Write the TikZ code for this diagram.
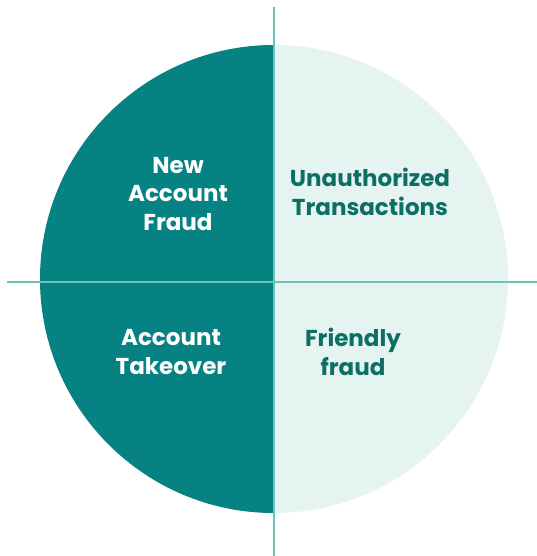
\documentclass[tikz,border=0pt]{standalone}
\usepackage{fontspec}
\setmainfont{Poppins}[BoldFont={* Bold}]
\definecolor{teal1}{RGB}{6,130,131}
\definecolor{light1}{RGB}{230,244,241}
\definecolor{line1}{RGB}{108,195,181}
\definecolor{txt1}{RGB}{12,110,100}
\begin{document}
\begin{tikzpicture}[x=1pt,y=-1pt,
  lbl/.style={font=\bfseries\fontsize{23}{28.5}\selectfont, align=center, inner sep=0pt},
  dark/.style={lbl, text=white},
  lite/.style={lbl, text=txt1}]
\useasboundingbox (0,0) rectangle (537,556);
\coordinate (c) at (274,279);
\fill[light1] (c) circle[radius=234pt];
\begin{scope}
  \clip (0,0) rectangle (274,556);
  \fill[teal1] (c) circle[radius=234pt];
\end{scope}
\coordinate (vt) at (274,7);
\coordinate (vb) at (274,556);
\coordinate (hl) at (7,282);
\coordinate (hr) at (537,282);
\draw[line1, line width=2.6pt] (vt) -- (vb);
\draw[line1, line width=2.6pt] (hl) -- (hr);
\node[dark] (naf) at (178,194) {New\\Account\\Fraud};
\node[lite] (ut) at (370,192) {Unauthorized\\Transactions};
\node[dark] (at) at (171,352) {Account\\Takeover};
\node[lite] (ff) at (353,352) {Friendly\\fraud};
\end{tikzpicture}
\end{document}
